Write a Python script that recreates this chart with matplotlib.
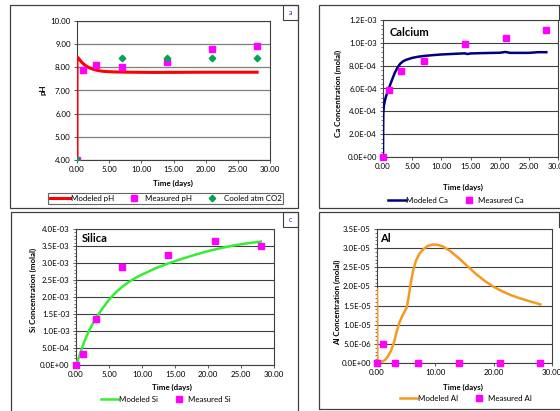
import matplotlib
matplotlib.use("Agg")
import matplotlib.pyplot as plt
import matplotlib.patches as patches
from matplotlib.lines import Line2D
from matplotlib.ticker import FormatStrFormatter, MultipleLocator, FuncFormatter

plt.rcParams['font.family'] = ['Lato', 'DejaVu Sans']

W, H = 560, 411

# sample days
dni_pomiaru = [0, 1, 3, 7, 14, 21, 28]

# a) pH
t_ph_mod = [0, 0, 0.2, 0.5, 0.8, 1.2, 1.6, 2, 2.5, 3, 3.5, 4, 5, 6, 8, 12, 20, 28]
ph_mod = [4.0, 8.45, 8.4, 8.3, 8.2, 8.1, 8.03, 7.97, 7.92, 7.88, 7.85, 7.83, 7.81, 7.8,
          7.79, 7.78, 7.79, 7.79]
ph_zmierzone = [4.0, 7.88, 8.1, 8.03, 8.23, 8.78, 8.92]
t_co2 = [0, 7, 14, 21, 28]
ph_co2 = [4.0, 8.42, 8.42, 8.42, 8.42]

# b) calcium
t_ca_mod = [0, 0.02, 0.05, 0.15, 0.4, 0.7, 1, 1.5, 2, 2.5, 3, 3.5, 4, 5, 6, 7, 8.5, 10,
            12, 14, 14.5, 15, 17, 20, 21, 21.8, 25, 26.5, 28]
ca_mod = [0, 2e-4, 3.8e-4, 4.5e-4, 5.1e-4, 5.6e-4, 6.0e-4, 6.7e-4, 7.35e-4, 7.85e-4,
          8.2e-4, 8.4e-4, 8.52e-4, 8.68e-4, 8.78e-4, 8.85e-4, 8.92e-4, 8.98e-4, 9.03e-4,
          9.08e-4, 9.02e-4, 9.07e-4, 9.1e-4, 9.13e-4, 9.2e-4, 9.12e-4, 9.12e-4, 9.18e-4,
          9.18e-4]
ca_zmierzone = [0, 5.83e-4, 7.54e-4, 8.4e-4, 9.93e-4, 1.04e-3, 1.11e-3]

# c) silica
t_si_mod = [0, 0.3, 0.7, 1, 1.5, 2, 2.5, 3, 3.5, 4, 5, 6, 7, 8, 9, 10, 11, 12, 14, 16,
            18, 20, 22, 24, 26, 28]
si_mod = [0, 1.5e-4, 3.8e-4, 5.5e-4, 8e-4, 1.02e-3, 1.2e-3, 1.37e-3, 1.52e-3, 1.66e-3,
          1.92e-3, 2.13e-3, 2.3e-3, 2.44e-3, 2.56e-3, 2.66e-3, 2.75e-3, 2.84e-3, 2.99e-3,
          3.12e-3, 3.24e-3, 3.35e-3, 3.44e-3, 3.52e-3, 3.58e-3, 3.63e-3]
si_zmierzone = [0, 3.1e-4, 1.34e-3, 2.87e-3, 3.25e-3, 3.66e-3, 3.51e-3]

# d) aluminium
t_al_mod = [0, 0.05, 0.3, 0.9, 1.4, 1.9, 2.4, 2.9, 3.3, 3.8, 4.3, 4.8, 5.1, 5.4, 5.8,
            6.2, 6.7, 7.3, 8.0, 8.7, 9.5, 10.3, 11.2, 12.5, 14, 15.5, 17, 18.5, 20,
            21.5, 23, 24.5, 26, 28]
al_mod = [1.92e-5, 1e-6, 5e-7, 4e-7, 8e-7, 1.8e-6, 3.2e-6, 5.3e-6, 7.8e-6, 1.04e-5,
          1.22e-5, 1.36e-5, 1.45e-5, 1.7e-5, 2.1e-5, 2.42e-5, 2.68e-5, 2.86e-5, 2.98e-5,
          3.06e-5, 3.09e-5, 3.09e-5, 3.05e-5, 2.93e-5, 2.74e-5, 2.53e-5, 2.32e-5,
          2.14e-5, 1.99e-5, 1.87e-5, 1.77e-5, 1.69e-5, 1.62e-5, 1.53e-5]
al_zmierzone = [0, 5e-6, 0, 0, 0, 0, 0]

MAGENTA = '#ff00ff'
SIATKA = '#404040'


def fx(x):
    return x / W


def fy(y):
    return 1 - y / H


def os_px(fig, x0, y0, x1, y1):
    # osie w pikselach (lewy, gorny, prawy, dolny)
    return fig.add_axes([fx(x0), fy(y1), (x1 - x0) / W, (y1 - y0) / H])


def ramka(fig, x0, y0, x1, y1, litera):
    fig.add_artist(patches.Rectangle((fx(x0), fy(y1)), (x1 - x0) / W, (y1 - y0) / H,
                                     transform=fig.transFigure, fill=False,
                                     edgecolor='#404040', linewidth=0.9))
    lx0 = x1 - 15
    fig.add_artist(patches.Rectangle((fx(lx0), fy(y0 + 15)), 15 / W, 15 / H,
                                     transform=fig.transFigure, fill=False,
                                     edgecolor='#404040', linewidth=0.8))
    fig.text(fx(lx0 + 7.5), fy(y0 + 7.5), litera, ha='center', va='center',
             fontsize=5, color='#1f3f9f')


def styl(ax, fig, xlabel, ylabel, xl, yl, ymin, ymax, ystep, fmt, minor=None, xstep=5):
    ax.set_xlim(0, 30)
    ax.set_ylim(ymin, ymax)
    ax.xaxis.set_major_locator(MultipleLocator(xstep))
    ax.yaxis.set_major_locator(MultipleLocator(ystep))
    ax.xaxis.set_major_formatter(FormatStrFormatter('%.2f'))
    ax.yaxis.set_major_formatter(fmt)
    if minor:
        ax.yaxis.set_minor_locator(MultipleLocator(minor))
    ax.tick_params(axis='both', which='major', direction='out', length=2.5, width=0.6,
                   labelsize=5.7, pad=2, color='#404040')
    ax.tick_params(axis='y', which='minor', direction='out', length=1.5, width=0.5,
                   color='#404040')
    ax.tick_params(axis='x', which='minor', bottom=False)
    for s in ax.spines.values():
        s.set_color('#404040')
        s.set_linewidth(0.8)
    ax.grid(axis='y', color=SIATKA, linewidth=0.8)
    ax.set_axisbelow(True)
    ax.set_xlabel(xlabel, fontsize=5.7, fontweight='bold', va='center')
    ax.set_ylabel(ylabel, fontsize=5.7, fontweight='bold', va='center')
    ax.xaxis.set_label_coords(fx(xl[0]), fy(xl[1]), transform=fig.transFigure)
    ax.yaxis.set_label_coords(fx(yl[0]), fy(yl[1]), transform=fig.transFigure)


def sci(v, pos):
    return '%.1E' % v


fig = plt.figure(figsize=(5.6, 4.11), dpi=100)

# ramki paneli
ramka(fig, 10, 5, 298, 208, 'a')
ramka(fig, 319, 5, 574, 208, 'b')
ramka(fig, 11, 212, 298, 425, 'c')
ramka(fig, 319, 212, 574, 409, 'd')

# --- a ---
ax = os_px(fig, 77, 21, 270, 160)
ax.plot(t_ph_mod, ph_mod, color='#ff0000', linewidth=2.2, zorder=3)
ax.plot(dni_pomiaru, ph_zmierzone, linestyle='none', marker='s', markersize=4.6,
        color=MAGENTA, zorder=4)
ax.plot(t_co2, ph_co2, linestyle='none', marker='D', markersize=3.3, color='#00a550', zorder=5)
styl(ax, fig, 'Time (days)', 'pH', (173, 183), (43, 90), 4, 10, 1, FormatStrFormatter('%.2f'))
ax.grid(axis='y', color='#7f7f7f', linewidth=0.9)
h = [Line2D([], [], color='#ff0000', linewidth=2.2),
     Line2D([], [], linestyle='none', marker='s', markersize=4.6, color=MAGENTA),
     Line2D([], [], linestyle='none', marker='D', markersize=3.3, color='#00a550')]
leg = ax.legend(h, ['Modeled pH', 'Measured pH', 'Cooled atm CO2'], ncol=3, loc='center',
                bbox_to_anchor=(fx(48), fy(204), (283 - 48) / W, 11 / H),
                bbox_transform=fig.transFigure, mode='expand', fontsize=5.7,
                frameon=True, fancybox=False, borderpad=0.2, handlelength=2.6,
                handletextpad=0.1, borderaxespad=0)
leg.get_frame().set_edgecolor('#404040')
leg.get_frame().set_linewidth(0.8)

# --- b ---
ax = os_px(fig, 383, 20, 558, 157)
ax.plot(t_ca_mod, ca_mod, color='#000080', linewidth=1.8, zorder=3)
ax.plot(dni_pomiaru, ca_zmierzone, linestyle='none', marker='s', markersize=4.6,
        color=MAGENTA, zorder=4, clip_on=False)
styl(ax, fig, 'Time (days)', 'Ca Concentration (molal)', (463, 187), (338, 93),
     0, 1.2e-3, 2e-4, FuncFormatter(sci), minor=4e-5)
ax.text(fx(390), fy(32), 'Calcium', transform=fig.transFigure, fontsize=8,
        fontweight='bold', va='center', ha='left')
h = [Line2D([], [], color='#000080', linewidth=1.8),
     Line2D([], [], linestyle='none', marker='s', markersize=4.6, color=MAGENTA)]
ax.legend(h, ['Modeled Ca', 'Measured Ca'], ncol=2, loc='center',
          bbox_to_anchor=(fx(456), fy(200)), bbox_transform=fig.transFigure,
          fontsize=5.7, frameon=False, handlelength=2.2, handletextpad=0.1,
          columnspacing=1.5, borderpad=0)

# --- c ---
ax = os_px(fig, 76, 229, 274, 365)
ax.plot(t_si_mod, si_mod, color='#33ee33', linewidth=1.8, zorder=3)
ax.plot(dni_pomiaru, si_zmierzone, linestyle='none', marker='s', markersize=4.6,
        color=MAGENTA, zorder=4, clip_on=False)
styl(ax, fig, 'Time (days)', 'Si Concentration (molal)', (172, 387), (33, 290),
     0, 4.0e-3, 5e-4, FuncFormatter(sci), minor=1e-4)
ax.text(fx(82), fy(238), 'Silica', transform=fig.transFigure, fontsize=8,
        fontweight='bold', va='center', ha='left')
h = [Line2D([], [], color='#33ee33', linewidth=1.8),
     Line2D([], [], linestyle='none', marker='s', markersize=4.6, color=MAGENTA)]
ax.legend(h, ['Modeled Si', 'Measured Si'], ncol=2, loc='center',
          bbox_to_anchor=(fx(166), fy(399)), bbox_transform=fig.transFigure,
          fontsize=5.7, frameon=False, handlelength=2.2, handletextpad=0.1,
          columnspacing=1.5, borderpad=0)

# --- d ---
ax = os_px(fig, 377, 229, 552, 363)
ax.plot(t_al_mod, al_mod, color='#f59a1e', linewidth=1.8, zorder=3)
ax.plot(dni_pomiaru, al_zmierzone, linestyle='none', marker='s', markersize=4.6,
        color=MAGENTA, zorder=4, clip_on=False)
styl(ax, fig, 'Time (days)', 'Al Concentration (molal)', (463, 387), (337, 302),
     0, 3.5e-5, 5e-6, FuncFormatter(sci), minor=1e-6, xstep=10)
ax.text(fx(380), fy(238), 'Al', transform=fig.transFigure, fontsize=8,
        fontweight='bold', va='center', ha='left')
h = [Line2D([], [], color='#f59a1e', linewidth=1.8),
     Line2D([], [], linestyle='none', marker='s', markersize=4.6, color=MAGENTA)]
ax.legend(h, ['Modeled Al', 'Measured Al'], ncol=2, loc='center',
          bbox_to_anchor=(fx(466), fy(398)), bbox_transform=fig.transFigure,
          fontsize=5.7, frameon=False, handlelength=2.2, handletextpad=0.1,
          columnspacing=1.5, borderpad=0)

fig.savefig('out.png', dpi=100)
